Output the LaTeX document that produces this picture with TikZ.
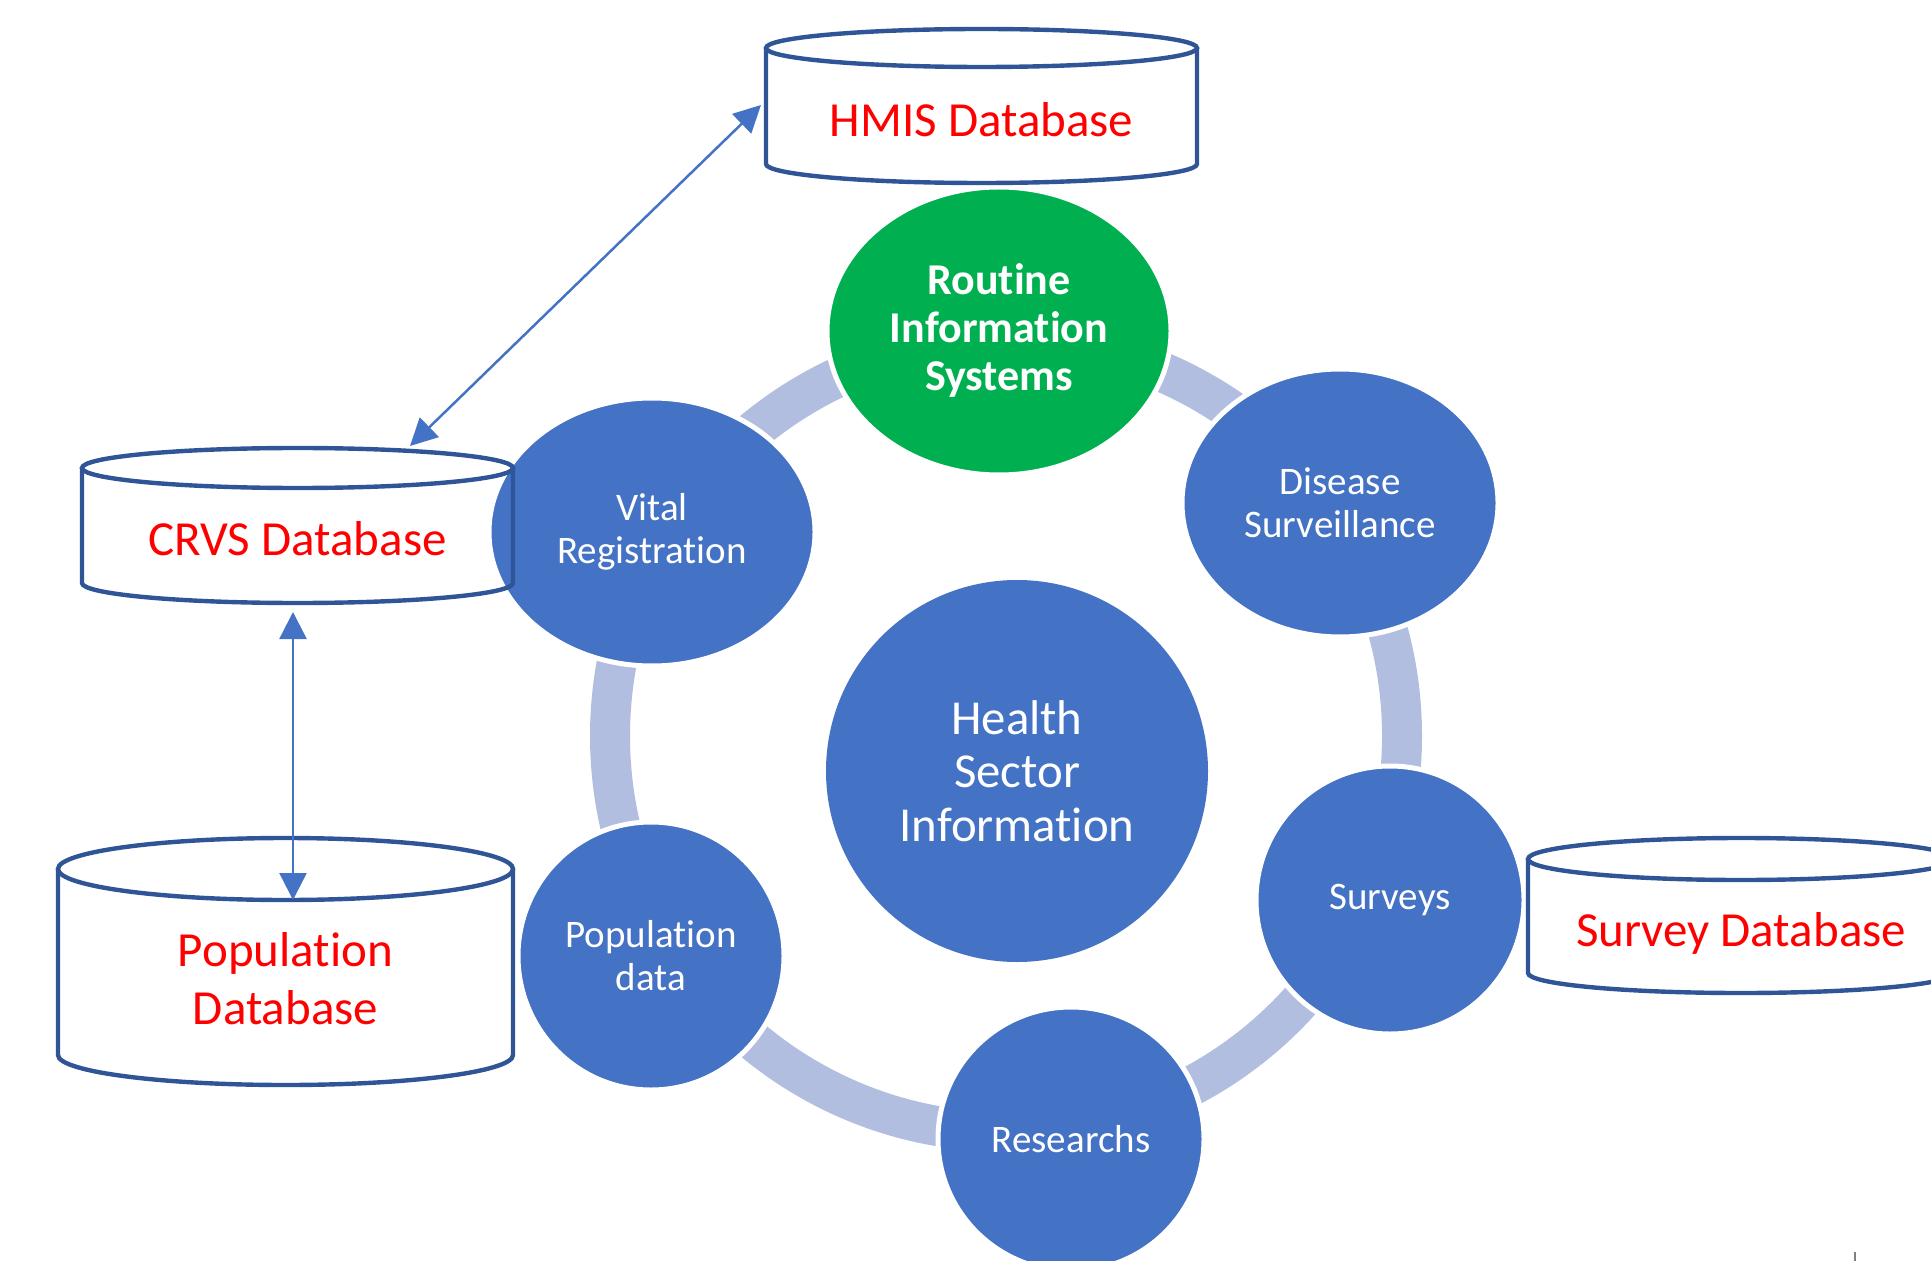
\documentclass[tikz,border=0pt]{standalone}
\usepackage{fontspec}
\setmainfont[Ligatures={NoCommon,NoContextual}]{Carlito}
\usetikzlibrary{shapes.geometric,arrows.meta}
\definecolor{circblue}{RGB}{68,114,196}
\definecolor{rougreen}{RGB}{0,176,80}
\definecolor{ringcol}{RGB}{177,190,224}
\definecolor{cylcol}{RGB}{47,85,151}
\definecolor{dbred}{RGB}{255,0,0}
\definecolor{arrcol}{RGB}{68,114,196}
\begin{document}
\begin{tikzpicture}[x=0.5pt,y=-0.5pt,
  sat/.style={ellipse, fill=circblue, draw=white, line width=2.5pt, inner sep=0pt,
    text=white, align=center, font=\fontsize{19.5}{21.5}\selectfont},
  cyl/.style={draw=cylcol, line width=2.2pt},
  dbtext/.style={text=dbred, align=center, inner sep=0pt, font=\fontsize{24.5}{29}\selectfont},
  link/.style={draw=arrcol, line width=1.25pt, {Triangle[length=13.5pt,width=13.5pt]}-{Triangle[length=13.5pt,width=13.5pt]}}
]
\clip (0,0) rectangle (1931,1261);
% ring
\draw[ringcol, line width=20pt] (1006,736) circle[radius=198pt];
% circles
\node[sat, fill=rougreen, minimum width=172pt, minimum height=144pt,
  font=\bfseries\fontsize{22}{24}\selectfont] (ris) at (999,331) {Routine\\Information\\Systems};
\node[sat, minimum width=163pt, minimum height=134pt] (vital) at (652,532) {Vital\\Registration};
\node[sat, minimum width=158pt, minimum height=134pt] (disease) at (1340,503) {Disease\\Surveillance};
\node[sat, draw=none, minimum width=191pt, minimum height=191pt,
  font=\fontsize{24.4}{26.75}\selectfont] (hsi) at (1017,771) {Health\\Sector\\Information};
\node[sat, minimum width=134pt, minimum height=134pt] (surveys) at (1390,900) {Surveys};
\node[sat, minimum width=133pt, minimum height=134pt] (popdata) at (651,956) {Population\\data};
\node[sat, minimum width=133pt, minimum height=132pt] (research) at (1071,1139) {Researchs};
% cylinders
\draw[cyl] (766,48) -- (766,164) arc[start angle=180,end angle=360,x radius=107.75pt,y radius=9.5pt] -- (1197,48);
\draw[cyl] (981.5,48) ellipse[x radius=107.75pt,y radius=9.5pt];
\node[dbtext] (hmis) at (981.5,120) {HMIS Database};

\draw[cyl] (82,468) -- (82,583) arc[start angle=180,end angle=360,x radius=107.75pt,y radius=10pt] -- (513,468);
\draw[cyl] (297.5,468) ellipse[x radius=107.75pt,y radius=10pt];
\node[dbtext] (crvs) at (297.5,539) {CRVS Database};

\draw[cyl] (58,869) -- (58,1055) arc[start angle=180,end angle=360,x radius=113.75pt,y radius=15pt] -- (513,869);
\draw[cyl] (285.5,869) ellipse[x radius=113.75pt,y radius=15.5pt];
\node[dbtext] (popdb) at (285.5,979) {Population\\Database};

\draw[cyl] (1528,859) -- (1528,973) arc[start angle=180,end angle=360,x radius=106.5pt,y radius=10pt] -- (1954,859);
\draw[cyl] (1741,859) ellipse[x radius=106.5pt,y radius=10.5pt];
\node[dbtext] (surveydb) at (1741,933) {Survey Database};
% connectors
\coordinate (crvsIn) at (410,446);
\coordinate (hmisIn) at (761,105);
\coordinate (crvsOut) at (293,612);
\coordinate (popIn) at (293,900);
\draw[link] (crvsIn) -- (hmisIn);
\draw[link] (crvsOut) -- (popIn);
% stray tick
\coordinate (tickA) at (1855,1252);
\coordinate (tickB) at (1855,1261);
\draw[gray, line width=0.8pt] (tickA) -- (tickB);
\end{tikzpicture}
\end{document}
